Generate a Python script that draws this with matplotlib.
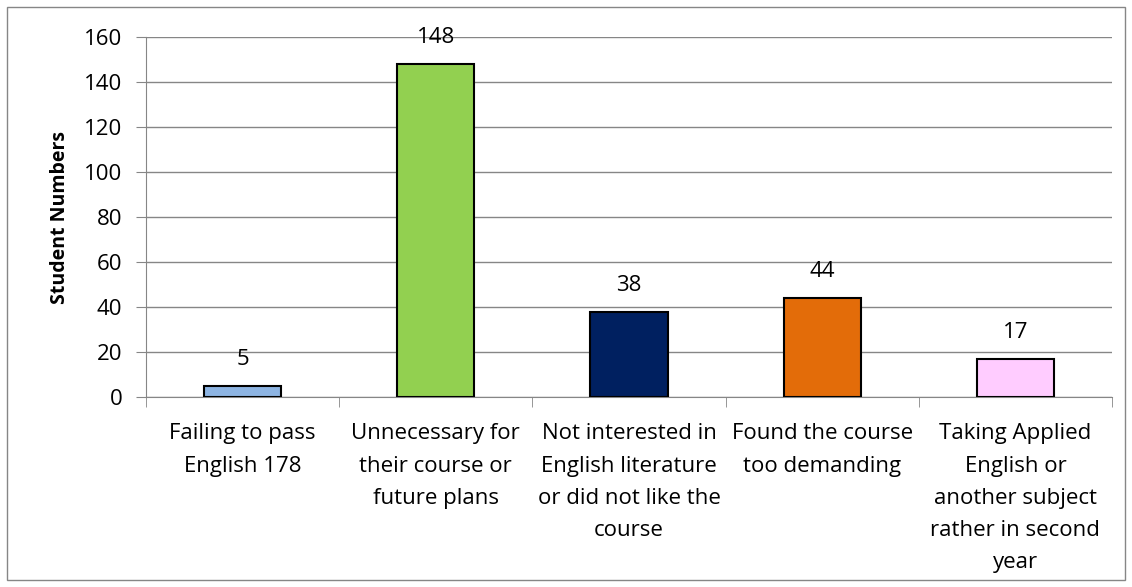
import matplotlib.pyplot as plt
from matplotlib.patches import Rectangle

categories = [
    "Failing to pass\nEnglish 178",
    "Unnecessary for\ntheir course or\nfuture plans",
    "Not interested in\nEnglish literature\nor did not like the\ncourse",
    "Found the course\ntoo demanding",
    "Taking Applied\nEnglish or\nanother subject\nrather in second\nyear",
]
values = [5, 148, 38, 44, 17]
colors = ["#8DB4E2", "#92D050", "#002060", "#E36C09", "#FFCCFF"]

plt.rcParams['font.family'] = ['Open Sans', 'DejaVu Sans']
fs = 16

fig = plt.figure(figsize=(11.32, 5.87), dpi=100)
ax = fig.add_axes([146 / 1132, 1 - 397 / 587, (1112 - 146) / 1132, (397 - 37) / 587])

x = list(range(len(values)))
ax.bar(x, values, width=0.4, color=colors, edgecolor="black", linewidth=1.5, zorder=3)
for xi, v in zip(x, values):
    ax.text(xi, v + 7, str(v), ha="center", va="bottom", fontsize=fs)

ax.set_xlim(-0.5, len(values) - 0.5)
ax.set_ylim(0, 160)
ax.set_yticks(range(0, 161, 20))
ax.tick_params(axis="y", labelsize=fs, length=7, color="#868686", pad=10)
ax.yaxis.grid(True, color="#868686", linewidth=1, zorder=0)

ax.set_xticks(x)
ax.set_xticklabels(categories, fontsize=fs, linespacing=1.7)
ax.tick_params(axis="x", length=0, pad=19)
ax.set_xticks([i + 0.5 for i in range(-1, len(values))], minor=True)
ax.tick_params(axis="x", which="minor", length=7, color="#868686")

for s in ["top", "right"]:
    ax.spines[s].set_visible(False)
ax.spines["left"].set_color("#868686")
ax.spines["bottom"].set_color("#868686")

ax.set_ylabel("Student Numbers", fontsize=14, fontweight="bold", labelpad=10)

fig.patches.append(Rectangle((7 / 1132, 7 / 587), 1118 / 1132, 573 / 587,
                             transform=fig.transFigure, fill=False,
                             edgecolor="#868686", linewidth=1))

fig.savefig("out.png", dpi=100)
